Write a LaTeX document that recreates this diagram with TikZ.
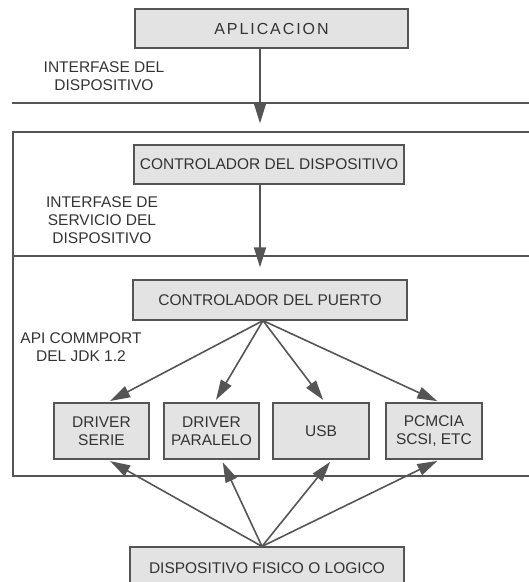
\documentclass[tikz,border=0pt]{standalone}
\usepackage{fontspec}
\setmainfont{Liberation Sans}
\usetikzlibrary{arrows.meta}
\definecolor{ink}{HTML}{555555}
\definecolor{txt}{HTML}{333333}
\definecolor{boxfill}{HTML}{E3E3E3}
\begin{document}
\begin{tikzpicture}[x=1pt,y=-1pt,
  font=\fontsize{15.5}{18}\selectfont,
  boxnode/.style={draw=ink, line width=1.2pt, fill=boxfill, text=txt, inner sep=0pt, align=center},
  lbl/.style={text=txt, align=center, inner sep=0pt},
  rule/.style={draw=ink, line width=1.6pt},
  arr/.style={draw=ink, line width=1.6pt, -{Triangle[length=20pt,width=12pt,fill=ink]}}]
\useasboundingbox (0,0) rectangle (529,582);
\clip (0,0) rectangle (529,582);
% frame and separators
\draw[rule] (12,103) -- (540,103);
\draw[rule] (540,132) -- (13,132) -- (13,476) -- (540,476);
\draw[rule] (13,256) -- (540,256);
% nodes
\node[boxnode, minimum width=273pt, minimum height=39pt] (app) at (271.5,28.5) {\fontsize{16}{18}\selectfont\addfontfeature{LetterSpace=12}APLICACION};
\node[boxnode, minimum width=270pt, minimum height=39pt] (ctrl) at (269,164.5) {CONTROLADOR DEL DISPOSITIVO};
\node[boxnode, minimum width=274pt, minimum height=40pt] (puerto) at (270,300) {CONTROLADOR DEL PUERTO};
\node[boxnode, minimum width=95pt, minimum height=56pt] (b1) at (101.5,431) {DRIVER\\SERIE};
\node[boxnode, minimum width=95pt, minimum height=56pt] (b2) at (211.5,431) {DRIVER\\PARALELO};
\node[boxnode, minimum width=96pt, minimum height=56pt] (b3) at (321,431) {USB};
\node[boxnode, minimum width=96pt, minimum height=56pt] (b4) at (434,431) {PCMCIA\\SCSI, ETC};
\node[boxnode, minimum width=274pt, minimum height=43pt] (disp) at (267,568.5) {DISPOSITIVO FISICO O LOGICO};
% labels
\node[lbl] (l1) at (104,76) {INTERFASE DEL\\DISPOSITIVO};
\node[lbl] (l2) at (102,220) {INTERFASE DE\\SERVICIO DEL\\DISPOSITIVO};
\node[lbl] (l3) at (81,347) {API COMMPORT\\DEL JDK 1.2};
% arrows
\draw[arr, shorten >=21pt] ([xshift=-11.5pt]app.south) -- ([xshift=-9pt]ctrl.north);
\draw[arr, shorten >=12pt] ([xshift=-9pt]ctrl.south) -- ([xshift=-10pt]puerto.north);
\foreach \b/\s in {b1/6pt, b2/3pt, b3/4pt, b4/6pt}{
  \draw[arr, shorten >=3pt] ([xshift=-7pt]puerto.south) -- ([xshift=\s]\b.north);
}
\foreach \b/\s in {b1/6pt, b2/10pt, b3/11pt, b4/6pt}{
  \draw[arr, shorten >=3pt] ([xshift=-5pt]disp.north) -- ([xshift=\s]\b.south);
}
\end{tikzpicture}
\end{document}
